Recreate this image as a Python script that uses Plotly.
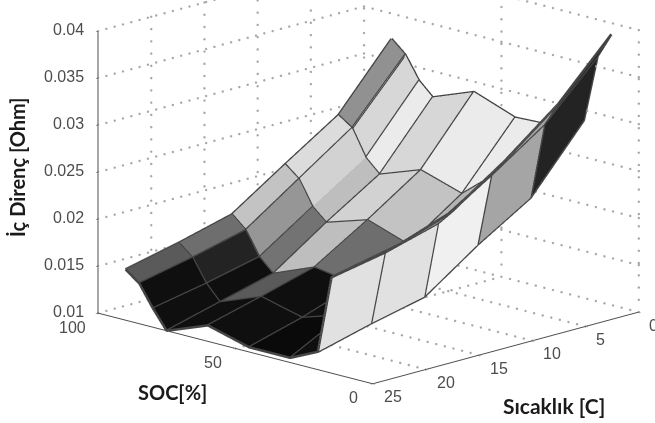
import math
import numpy as np
import plotly.graph_objects as go

# --- data ---
temperature = [0, 5, 10, 15, 20, 25]
soc = [10, 15, 20, 30, 45, 60, 75, 80, 85, 90]
# resistance, one row per SOC, one column per temperature
r_soc10 = [.0388, .0329, .0284, .0245, .0225, .0213]
r_soc15 = [.0361, .0304, .0265, .0229, .0213, .0202]
r_soc20 = [.0289, .0222, .0187, .0147, .0134, .0119]
r_soc30 = [.0275, .0244, .0200, .0158, .0135, .0105]
r_soc45 = [.0273, .0207, .0168, .0141, .0121, .0105]
r_soc60 = [.0289, .0221, .0183, .0148, .0132, .0117]
r_soc75 = [.0272, .0205, .0169, .0130, .0115, .0100]
r_soc80 = [.0286, .0219, .0182, .0144, .0131, .0120]
r_soc85 = [.0310, .0247, .0208, .0169, .0155, .0143]
r_soc90 = [.0323, .0257, .0220, .0182, .0167, .0154]
resistance = [r_soc10, r_soc15, r_soc20, r_soc30, r_soc45, r_soc60, r_soc75, r_soc80, r_soc85, r_soc90]

# grey level of each facet (rows between SOC values, columns between temperatures)
g_10_15 = [35, 165, 150, 130, 110]
g_15_20 = [35, 165, 240, 225, 225]
g_20_30 = [150, 150, 150, 60, 15]
g_30_45 = [235, 180, 150, 15, 10]
g_45_60 = [235, 195, 110, 15, 15]
g_60_75 = [215, 210, 190, 90, 15]
g_75_80 = [235, 190, 115, 15, 15]
g_80_85 = [215, 210, 150, 35, 15]
g_85_90 = [145, 220, 195, 110, 90]
facet_grey = [g_10_15, g_15_20, g_20_30, g_30_45, g_45_60, g_60_75, g_75_80, g_80_85, g_85_90]

t_ticks = [0, 5, 10, 15, 20, 25]
soc_ticks = [0, 50, 100]
z_ticks = [0.01, 0.015, 0.02, 0.025, 0.03, 0.035, 0.04]
z_labels = ["0.01", "0.015", "0.02", "0.025", "0.03", "0.035", "0.04"]

# --- mesh ---
nr, nc = len(soc), len(temperature)
vx, vy, vz = [], [], []
for i in range(nr):
    for j in range(nc):
        vx.append(temperature[j]); vy.append(soc[i]); vz.append(resistance[i][j])
I, J, K, colors = [], [], [], []
for i in range(nr - 1):
    for j in range(nc - 1):
        a = i * nc + j; b = a + 1; c = a + nc; d = c + 1
        g = facet_grey[i][j]
        col = f"rgb({g},{g},{g})"
        I += [a, b]; J += [b, d]; K += [c, c]
        colors += [col, col]

fig = go.Figure()
fig.add_trace(go.Mesh3d(x=vx, y=vy, z=vz, i=I, j=J, k=K, facecolor=colors, flatshading=True,
                        lighting=dict(ambient=1, diffuse=0, specular=0, roughness=1, fresnel=0),
                        hoverinfo="skip", showscale=False))

# facet edges
ex, ey, ez = [], [], []
for i in range(nr):
    ex += temperature + [None]; ey += [soc[i]] * nc + [None]; ez += resistance[i] + [None]
for j in range(nc):
    ex += [temperature[j]] * nr + [None]; ey += soc + [None]; ez += [resistance[i][j] for i in range(nr)] + [None]
fig.add_trace(go.Scatter3d(x=ex, y=ey, z=ez, mode="lines", line=dict(color="#464646", width=5),
                           hoverinfo="skip", showlegend=False))

# dotted walls and floor, one dot row per tick (the solid axes carry no dots)
zlo, zhi = z_ticks[0], z_ticks[-1]
gx, gy, gz = [], [], []
def dotted(p, q, n):
    for f in np.linspace(0, 1, n):
        gx.append(p[0] + (q[0] - p[0]) * f)
        gy.append(p[1] + (q[1] - p[1]) * f)
        gz.append(p[2] + (q[2] - p[2]) * f)
for t in t_ticks[:-1]:
    dotted((t, 100, zlo), (t, 100, zhi), 24)
    dotted((t, 0, zlo), (t, 100, zlo), 33)
for s in soc_ticks[1:]:
    dotted((0, s, zlo), (25, s, zlo), 33)
for s in soc_ticks:
    dotted((0, s, zlo), (0, s, zhi), 24)
for zv in z_ticks[1:]:
    dotted((0, 100, zv), (25, 100, zv), 33)
    dotted((0, 0, zv), (0, 100, zv), 33)
fig.add_trace(go.Scatter3d(x=gx, y=gy, z=gz, mode="markers", marker=dict(color="#a8a8a8", size=1.4, line=dict(width=0)),
                           hoverinfo="skip", showlegend=False))

elev = math.radians(15.27)
azim = math.radians(224.33)
dist = 3.0
direction = (math.cos(elev) * math.cos(azim), math.cos(elev) * math.sin(azim), math.sin(elev))
right = (-math.sin(azim), math.cos(azim), 0)
up = (-math.sin(elev) * math.cos(azim), -math.sin(elev) * math.sin(azim), math.cos(elev))
shift_right, shift_up = 41 / 212, 40 / 212
center = [-shift_right * right[n] - shift_up * up[n] for n in range(3)]
eye = [center[n] + dist * direction[n] for n in range(3)]

def axis(**kw):
    return dict(showgrid=False, zeroline=False, showbackground=False, showspikes=False, showline=True,
                linecolor="#4d4d4d", linewidth=2, ticks="outside", ticklen=3, tickcolor="#4d4d4d",
                showticklabels=False, title=dict(text=""), **kw)

tick_font = dict(family="Liberation Sans", size=16, color="#4d4d4d")
scene_labels = []
for zv, lab in zip(z_ticks, z_labels):
    scene_labels.append(dict(x=25, y=100, z=zv, text=lab, showarrow=False, xanchor="right", yanchor="middle",
                             xshift=-12, yshift=2, font=tick_font))
for t in t_ticks:
    scene_labels.append(dict(x=t, y=0, z=zlo, text=str(t), showarrow=False, xanchor="center", yanchor="middle",
                             xshift=20 if t >= 10 else 15, yshift=-13, font=tick_font))
for s, dx in zip(soc_ticks, [-19, -22, -26]):
    scene_labels.append(dict(x=25, y=s, z=zlo, text=str(s), showarrow=False, xanchor="center", yanchor="middle",
                             xshift=dx, yshift=-14, font=tick_font))

label_font = dict(family="Lato", size=20, color="#1a1a1a")
fig.update_layout(
    width=655, height=423, margin=dict(l=0, r=0, t=0, b=0), paper_bgcolor="white", showlegend=False,
    scene=dict(
        domain=dict(x=[0, 1], y=[0, 1]),
        xaxis=axis(range=[25, 0], tickvals=t_ticks),
        yaxis=axis(range=[0, 100], tickvals=soc_ticks),
        zaxis=axis(range=[zlo, zhi], tickvals=z_ticks),
        aspectmode="manual", aspectratio=dict(x=1.8, y=1.816, z=1.382),
        camera=dict(eye=dict(x=eye[0], y=eye[1], z=eye[2]), up=dict(x=0, y=0, z=1),
                    center=dict(x=center[0], y=center[1], z=center[2]),
                    projection=dict(type="orthographic")),
        dragmode=False,
        annotations=scene_labels,
    ),
    annotations=[
        dict(text="<b>İç Direnç [Ohm]</b>", x=17 / 655, y=1 - 168 / 423, xref="paper", yref="paper", showarrow=False,
             textangle=-90, xanchor="center", yanchor="middle", font=label_font),
        dict(text="<b>SOC[%]</b>", x=172 / 655, y=1 - 392 / 423, xref="paper", yref="paper", showarrow=False,
             xanchor="center", yanchor="middle", font=label_font),
        dict(text="<b>Sıcaklık [C]</b>", x=554 / 655, y=1 - 405 / 423, xref="paper", yref="paper", showarrow=False,
             xanchor="center", yanchor="middle", font=dict(family="Lato", size=21, color="#1a1a1a")),
    ],
)
fig.write_html("out.html", post_script="document.body.style.margin='0';", config={"displayModeBar": False})
